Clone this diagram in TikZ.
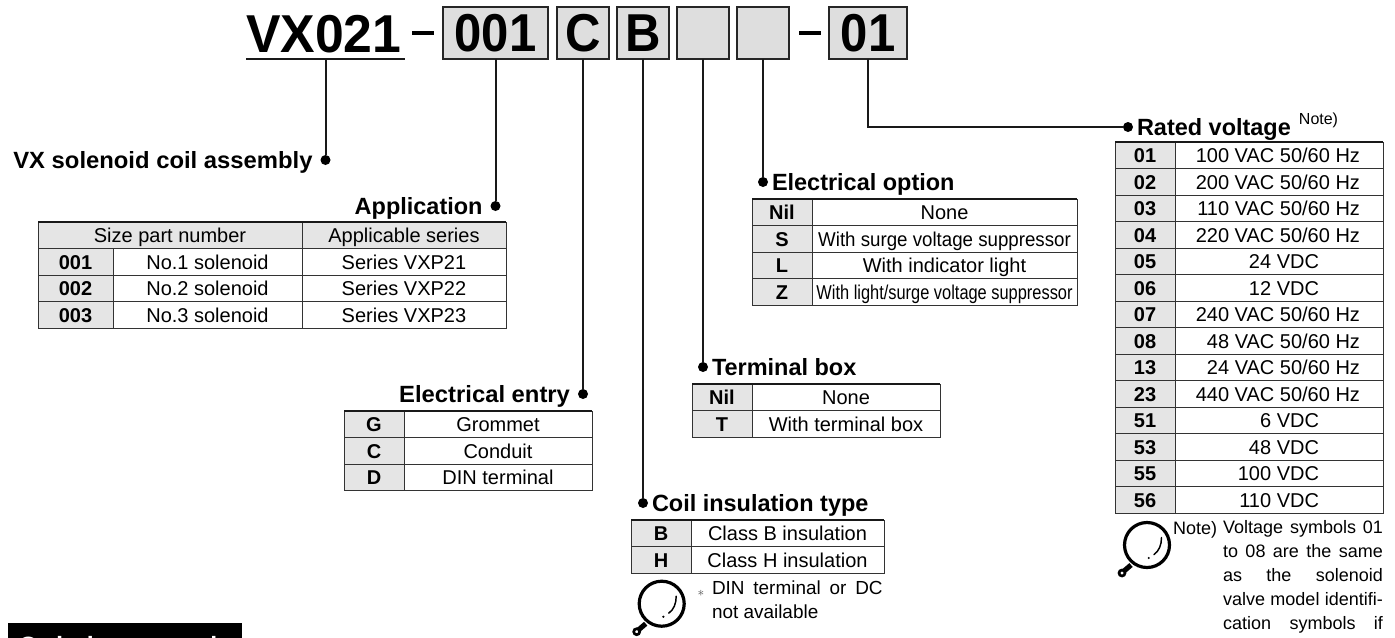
\documentclass[tikz,border=0pt]{standalone}
\usepackage{fontspec}
\usepackage{xcolor}
\usepackage{graphicx}
\setmainfont{Liberation Sans}
\usetikzlibrary{positioning}
\definecolor{cellgray}{HTML}{E5E5E5}
\definecolor{boxgray}{HTML}{DEDEDE}
\newcommand{\vac}[1]{\makebox[121.5pt][r]{#1}}
\newcommand{\vdc}[1]{\makebox[60pt][r]{#1}}
\newcommand{\fitline}[1]{\makebox[120pt][s]{#1}}

\begin{document}
\begin{tikzpicture}
      [ x=.75pt, y=-.75pt, inner sep=0pt, outer sep=0pt,
        bigtext/.style={font=\fontsize{40}{44}\bfseries\selectfont, text height=29pt, text depth=0pt},
        codebox/.style={bigtext, draw=black!85, fill=boxgray, line width=1.5pt, minimum height=39pt},
        dashbar/.style={fill=black, minimum width=17pt, minimum height=2.6pt},
        title/.style={font=\fontsize{17.6}{20}\bfseries\selectfont, text height=12.6pt, text depth=0pt},
        leaddot/.style={circle, fill=black, minimum size=7.5pt},
        lead/.style={line width=1.5pt, black!90},
        cell/.style={draw=black!80, line width=.75pt, minimum height=19.875pt,
                     font=\fontsize{15}{18}\selectfont, text height=11.5pt, text depth=0pt},
        code/.style={cell, fill=cellgray, minimum width=45pt, font=\fontsize{15}{18}\bfseries\selectfont},
        head/.style={cell, fill=cellgray},
        toprule/.style={line width=1.5pt, black!90},
        notetext/.style={font=\fontsize{13.5}{18}\selectfont, align=left},
        lens/.pic={
          \draw[line width=2.4pt] (0,0) circle[radius=22.5];
          \draw[line width=1.1pt, line cap=round] (14.5,-7.5) .. controls (14.5,0) and (12,6) .. (7,9.5);
          \fill (1.7,13) circle[radius=1.2];
          \draw[line width=3.8pt] (-16,20) -- (-23,26);
          \draw[line width=2pt] (-25,28) circle[radius=3];
        }
      ]
      \useasboundingbox (0,0) rectangle (1395,637);
      \clip (0,0) rectangle (1395,637);

      \node[bigtext, anchor=base west] (model)   at (246,52)  {\makebox[119.25pt][l]{\scalebox{.97}[1]{VX021}}};
      \node[dashbar]                   (dashone) at (423,33)  {};
      \node[codebox, minimum width=78.75pt] (sizebox)  at (495.5,32.5)        {\scalebox{.92}[1]{001}};
      \node[codebox, minimum width=39pt]    (entrybox) [right=6.75pt of sizebox]  {\scalebox{.92}[1]{C}};
      \node[codebox, minimum width=39pt]    (coilbox)  [right=6pt of entrybox]    {\scalebox{.92}[1]{B}};
      \node[codebox, minimum width=39pt]    (termbox)  [right=6pt of coilbox]     {};
      \node[codebox, minimum width=39pt]    (optbox)   [right=6pt of termbox]     {};
      \node[dashbar]                   (dashtwo) at (810,33)  {};
      \node[codebox, minimum width=58.5pt]  (ratebox) at (868,32.5)           {\scalebox{.92}[1]{01}};
      \draw[lead] (model.south west) ++(0,7) -- ++(159,0) coordinate (modelend);

      \node[leaddot] (vxdot)    at (325.5,160) {};
      \node[leaddot] (appdot)   at (495.5,206) {};
      \node[leaddot] (entrydot) at (583,394)   {};
      \node[leaddot] (coildot)  at (643,503)   {};
      \node[leaddot] (termdot)  at (703,367)   {};
      \node[leaddot] (optdot)   at (763,182)   {};
      \node[leaddot] (ratedot)  at (1128,127)  {};

      \node[title] (vxtitle)    [left=6pt of vxdot]     {\scalebox{1.015}[1]{VX solenoid coil assembly}};
      \node[title] (apptitle)   [left=6pt of appdot]    {Application};
      \node[title] (entrytitle) [left=6pt of entrydot]  {\scalebox{1.015}[1]{Electrical entry}};
      \node[title] (coiltitle)  [right=3pt of coildot]  {Coil insulation type};
      \node[title] (termtitle)  [right=3pt of termdot]  {Terminal box};
      \node[title] (opttitle)   [right=3pt of optdot]   {Electrical option};
      \node[title] (ratetitle)  [right=3pt of ratedot]  {Rated voltage};
      \node[font=\fontsize{12}{14}\selectfont] (ratenote) at (1318.5,120) {Note)};

      \path[lead] (model.south -| vxdot) ++(0,7) edge (vxdot)
                  (sizebox)  edge (appdot)
                  (entrybox) edge (entrydot)
                  (coilbox)  edge (coildot)
                  (termbox)  edge (termdot)
                  (optbox)   edge (optdot);
      \draw[lead] (ratebox) |- (ratedot);

      \node[head, anchor=north west, minimum width=198pt] (apphead)  at (38,222)          {Size part number};
      \node[head, minimum width=153pt]                    (apphead2) [right=0pt of apphead] {Applicable series};
      \foreach \code/\name/\series [count=\i] in {001/No.1 solenoid/Series VXP21,002/No.2 solenoid/Series VXP22,003/No.3 solenoid/Series VXP23}
      {
        \node[code, anchor=north west, minimum width=56.25pt] (appcode\i) at (38,{248.5+(\i-1)*26.5}) {\code};
        \node[cell, minimum width=141.75pt]                   (appname\i) [right=0pt of appcode\i]   {\name};
        \node[cell, minimum width=153pt]                      (appser\i)  [right=0pt of appname\i]   {\series};
      }
      \draw[toprule] (apphead.north west) -- (apphead2.north east);

      \foreach \code/\name [count=\i] in {G/Grommet,C/Conduit,D/DIN terminal}
      {
        \node[code, anchor=north west] (entrycode\i) at (344,{411+(\i-1)*26.5}) {\code};
        \node[cell, minimum width=141pt] (entryname\i) [right=0pt of entrycode\i] {\name};
      }
      \draw[toprule] (entrycode1.north west) -- (entryname1.north east);

      \foreach \code/\name [count=\i] in {Nil/None,S/{\scalebox{.935}[1]{With surge voltage suppressor}},L/With indicator light,Z/{\scalebox{.82}[1]{With light/surge voltage suppressor}}}
      {
        \node[code, anchor=north west] (optcode\i) at (752,{199+(\i-1)*26.5}) {\code};
        \node[cell, minimum width=198.75pt] (optname\i) [right=0pt of optcode\i] {\name};
      }
      \draw[toprule] (optcode1.north west) -- (optname1.north east);

      \foreach \code/\name [count=\i] in {Nil/None,T/With terminal box}
      {
        \node[code, anchor=north west] (termcode\i) at (692,{384+(\i-1)*26.5}) {\code};
        \node[cell, minimum width=141pt] (termname\i) [right=0pt of termcode\i] {\name};
      }
      \draw[toprule] (termcode1.north west) -- (termname1.north east);

      \foreach \code/\name [count=\i] in {B/Class B insulation,H/Class H insulation}
      {
        \node[code, anchor=north west] (coilcode\i) at (631,{520+(\i-1)*26.5}) {\code};
        \node[cell, minimum width=144.75pt] (coilname\i) [right=0pt of coilcode\i] {\name};
      }
      \draw[toprule] (coilcode1.north west) -- (coilname1.north east);

      \foreach \code/\name [count=\i] in {01/{\vac{100 VAC 50/60 Hz}},02/{\vac{200 VAC 50/60 Hz}},03/{\vac{110 VAC 50/60 Hz}},04/{\vac{220 VAC 50/60 Hz}},05/{\vdc{24 VDC}},06/{\vdc{12 VDC}},07/{\vac{240 VAC 50/60 Hz}},08/{\vac{48 VAC 50/60 Hz}},13/{\vac{24 VAC 50/60 Hz}},23/{\vac{440 VAC 50/60 Hz}},51/{\vdc{6 VDC}},53/{\vdc{48 VDC}},55/{\vdc{100 VDC}},56/{\vdc{110 VDC}}}
      {
        \node[code, anchor=north west] (ratecode\i) at (1115,{142+(\i-1)*26.5}) {\code};
        \node[cell, minimum width=156pt] (ratename\i) [right=0pt of ratecode\i] {\name};
      }
      \draw[toprule] (ratecode1.north west) -- (ratename1.north east);

      \pic at (661.7,603.7)  {lens};
      \pic at (1147,545)     {lens};

      \node[text=black!70] (coilstar) at (701,593) {$\ast$};
      \node[font=\fontsize{14.2}{18}\selectfont, align=left, anchor=north west] (coilnote) at (712,581)
           {\makebox[128pt][s]{DIN terminal or DC}\\not available};
      \node[font=\fontsize{13.5}{16}\selectfont, anchor=base west] (notemark) at (1173,534) {Note)};
      \node[notetext, anchor=north west] (notebody) at (1223,520)
           {\fitline{Voltage symbols 01}\\\fitline{to 08 are the same}\\\fitline{as the solenoid}\\\fitline{valve model identifi-}\\\fitline{cation symbols if}};

      \node[fill=black, text=white, anchor=north west, minimum width=175.5pt, minimum height=33pt,
            font=\fontsize{18.75}{22}\bfseries\selectfont, text height=13.5pt, text depth=0pt] (ordertag) at (8,623) {Ordering example};
    \end{tikzpicture}
\end{document}
